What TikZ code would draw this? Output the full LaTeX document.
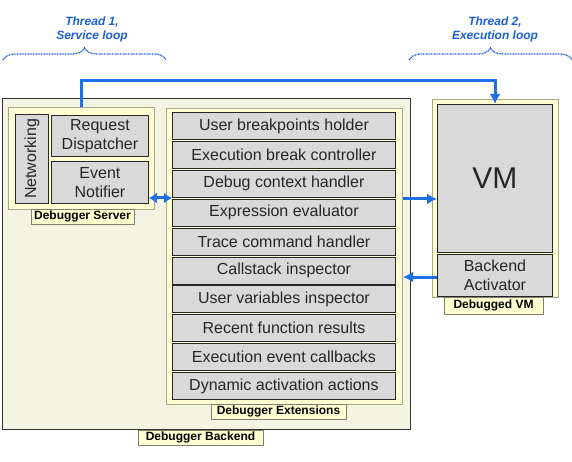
\documentclass[tikz,border=0pt]{standalone}
\usepackage{fontspec}
\setmainfont{Liberation Sans}
\usetikzlibrary{arrows.meta,decorations.pathreplacing,calc}
\definecolor{bkfill}{HTML}{F4F4E2}
\definecolor{ctfill}{HTML}{FFFFD2}
\definecolor{ctline}{HTML}{A8A890}
\definecolor{itfill}{HTML}{D9D9D9}
\definecolor{lbline}{HTML}{808070}
\definecolor{arrblue}{HTML}{1F6FE8}
\definecolor{thblue}{HTML}{1A5FD9}
\begin{document}
\begin{tikzpicture}[x=1pt,y=-1pt,
  backbox/.style={draw=black!80,fill=bkfill,line width=1pt,anchor=north west,inner sep=0pt},
  contbox/.style={draw=ctline,fill=ctfill,line width=1pt,anchor=north west,inner sep=0pt},
  itembox/.style={draw=black!85,fill=itfill,line width=0.9pt,anchor=north west,inner sep=0pt,align=center,
    font=\fontsize{16}{19}\selectfont,text=black!85},
  lbl/.style={draw=lbline,fill=ctfill,line width=0.8pt,anchor=north,inner sep=0pt,minimum height=15,
    font=\fontsize{12}{13}\selectfont\bfseries},
  arr/.style={draw=arrblue,line width=3pt,-{Latex[length=10pt,width=11pt]}},
  darr/.style={draw=arrblue,line width=3pt,{Latex[length=8pt,width=11pt]}-{Latex[length=8pt,width=11pt]}},
  thr/.style={text=thblue,font=\fontsize{12}{14}\selectfont\bfseries\itshape,align=center},
  brc/.style={draw=thblue,line width=1.3pt,dash pattern=on 0.9pt off 0.7pt,decorate,decoration={brace,amplitude=12pt}}
]
\useasboundingbox (0,0) rectangle (572,462);

% Thread labels and braces
\node[thr] (th1) at (92,29) {Thread 1,\\Service loop};
\node[thr] (th2) at (495,29) {Thread 2,\\Execution loop};
\coordinate (b1a) at (3,60);
\coordinate (b1b) at (166,60);
\coordinate (b2a) at (409,60);
\coordinate (b2b) at (572,60);
\draw[brc] (b1a) -- (b1b);
\draw[brc] (b2a) -- (b2b);

% Backend
\node[backbox,minimum width=408,minimum height=331] (back) at (2,98) {};
\node[lbl,minimum width=125] (backl) at (200.5,430) {Debugger Backend};

% Debugger Server
\node[contbox,minimum width=146,minimum height=102] (srv) at (8,107) {};
\node[itembox,minimum width=33,minimum height=89] (net) at (15,114) {};
\node[rotate=90,font=\fontsize{16}{18}\selectfont,text=black!85] (nett) at (net.center) {Networking};
\node[itembox,minimum width=97,minimum height=41] (rd) at (51,115) {Request\\Dispatcher};
\node[itembox,minimum width=97,minimum height=42] (en) at (51,161) {Event\\Notifier};
\node[lbl,minimum width=103] (srvl) at (82.5,209) {Debugger Server};

% Debugger Extensions
\node[contbox,minimum width=236,minimum height=296] (ext) at (166,108) {};
\foreach \t [count=\i from 0] in {User breakpoints holder,Execution break controller,Debug context handler,Expression evaluator,Trace command handler,Callstack inspector,User variables inspector,Recent function results,Execution event callbacks,Dynamic activation actions}{
  \node[itembox,minimum width=223,minimum height=27] (it\i) at (172,{112+28.9*\i}) {\t};
}
\node[lbl,minimum width=135] (extl) at (278.5,404) {Debugger Extensions};

% Debugged VM
\node[contbox,minimum width=126,minimum height=198] (dvm) at (432,99) {};
\node[itembox,minimum width=115,minimum height=148,font=\fontsize{30}{32}\selectfont] (vm) at (437,104) {VM};
\node[itembox,minimum width=115,minimum height=42] (ba) at (437,254) {Backend\\Activator};
\node[lbl,minimum width=99,minimum height=17] (dvml) at (493.5,297) {Debugged VM};

% Arrows
\coordinate (t1) at (81,81);
\coordinate (t2) at (495,81);
\draw[arr] (srv.north -| t1) |- (t2) -- (vm.north -| t2);
\coordinate (y1) at (0,198);
\draw[darr] (en.east |- y1) -- (it0.west |- y1);
\coordinate (y2) at (0,199);
\draw[arr] (ext.east |- y2) -- (vm.west |- y2);
\coordinate (y3) at (0,277);
\draw[arr] (ba.west |- y3) -- (ext.east |- y3);
\end{tikzpicture}
\end{document}
